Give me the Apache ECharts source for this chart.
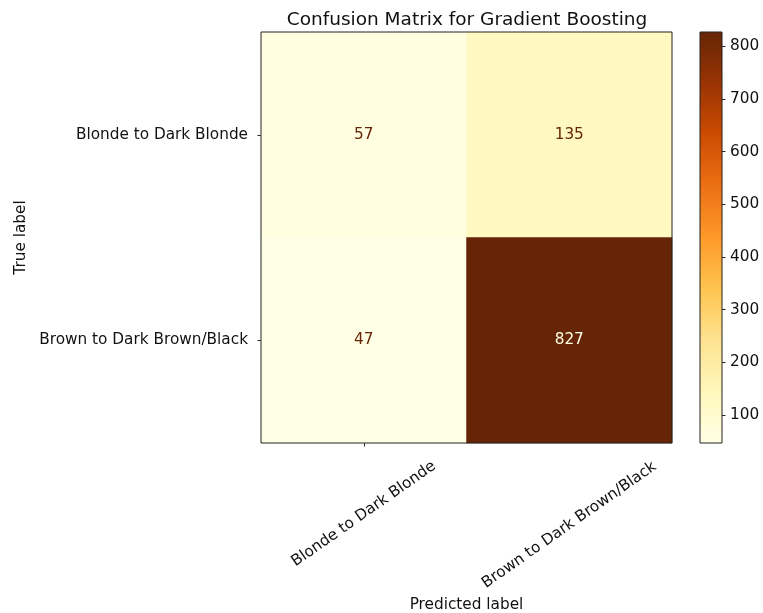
<!DOCTYPE html>
<html>
<head>
<meta charset="utf-8">
<script src="https://cdn.jsdelivr.net/npm/echarts@6/dist/echarts.min.js"></script>
<style>
  html, body { margin: 0; padding: 0; background: #fff; }
  #chart { width: 763px; height: 613px; }
</style>
</head>
<body>
<div id="chart"></div>
<script>
// Class names shared by the true (rows) and predicted (columns) axes
const trueLabels = ['Blonde to Dark Blonde', 'Brown to Dark Brown/Black'];
const predictedLabels = ['Blonde to Dark Blonde', 'Brown to Dark Brown/Black'];
// Counts: rows = true class, columns = predicted class
const countsRow0 = [57, 135];
const countsRow1 = [47, 827];
const colorbarTicks = [100, 200, 300, 400, 500, 600, 700, 800];
// YlOrBr sequential palette
const ylOrBr = ['#ffffe5', '#fff7bc', '#fee391', '#fec44f', '#fe9929', '#ec7014', '#cc4c02', '#993404', '#662506'];

const matrix = [countsRow0, countsRow1];
const flat = matrix.flat();
const vmin = Math.min(...flat);
const vmax = Math.max(...flat);
const threshold = (vmin + vmax) / 2;

const FONT = 'DejaVu Sans';
const FS = 15.3;

const cells = [];
matrix.forEach((row, i) => {
  row.forEach((v, j) => {
    cells.push({
      value: [j, i, v],
      label: { color: v > threshold ? ylOrBr[0] : ylOrBr[ylOrBr.length - 1] }
    });
  });
});

const gradient = {
  type: 'linear', x: 0, y: 1, x2: 0, y2: 0,
  colorStops: ylOrBr.map((c, i) => ({ offset: i / (ylOrBr.length - 1), color: c }))
};

const chart = echarts.init(document.getElementById('chart'), null, { renderer: 'canvas' });

const xLabelBase = {
  rotate: 35,
  align: 'center',
  verticalAlign: 'middle',
  color: '#111',
  fontFamily: FONT,
  fontSize: FS
};

chart.setOption({
  animation: false,
  backgroundColor: '#fff',
  textStyle: { fontFamily: FONT },
  title: {
    text: 'Confusion Matrix for Gradient Boosting',
    left: 462,
    top: 6,
    textAlign: 'center',
    textStyle: { fontFamily: FONT, fontSize: 18.5, fontWeight: 'normal', color: '#111' }
  },
  grid: [
    { left: 261, top: 32, width: 411, height: 411, show: true, z: 10, outerBoundsMode: 'none',
      containLabel: false, borderColor: '#222', borderWidth: 1, backgroundColor: 'transparent' },
    { left: 700, top: 32, width: 22, height: 411, outerBoundsMode: 'none', containLabel: false }
  ],
  xAxis: [
    {
      type: 'category', gridIndex: 0, data: predictedLabels, position: 'bottom',
      axisLine: { show: false },
      axisTick: { show: true, alignWithLabel: true, length: 3.5, lineStyle: { color: '#222' } },
      axisLabel: Object.assign({}, xLabelBase, { margin: 71, interval: (i) => i === 0 }),
      splitLine: { show: false },
      name: 'Predicted label', nameLocation: 'middle', nameGap: 155,
      nameTextStyle: { fontFamily: FONT, fontSize: FS, color: '#111' }
    },
    {
      type: 'category', gridIndex: 0, data: predictedLabels, position: 'bottom',
      axisLine: { show: false },
      axisTick: { show: false },
      axisLabel: Object.assign({}, xLabelBase, { margin: 82, interval: (i) => i === 1 }),
      splitLine: { show: false }
    },
    {
      type: 'category', gridIndex: 1, data: [''], show: false
    }
  ],
  yAxis: [
    {
      type: 'category', gridIndex: 0, data: trueLabels, inverse: true,
      axisLine: { show: false },
      axisTick: { show: true, alignWithLabel: true, length: 3.5, lineStyle: { color: '#222' } },
      axisLabel: { color: '#111', fontFamily: FONT, fontSize: FS, margin: 13 },
      splitLine: { show: false },
      name: 'True label', nameLocation: 'middle', nameGap: 220, nameRotate: 90,
      nameTextStyle: { fontFamily: FONT, fontSize: FS, color: '#111' }
    },
    {
      type: 'value', gridIndex: 1, min: vmin, max: vmax, position: 'right',
      axisLine: { show: false },
      splitLine: { show: false },
      axisTick: { show: true, length: 3.5, customValues: colorbarTicks, lineStyle: { color: '#222' } },
      axisLabel: { show: true, customValues: colorbarTicks, margin: 8, color: '#111', fontFamily: FONT, fontSize: FS }
    }
  ],
  visualMap: {
    show: false, type: 'continuous', seriesIndex: 0,
    min: vmin, max: vmax, dimension: 2,
    inRange: { color: ylOrBr }
  },
  series: [
    {
      type: 'heatmap', xAxisIndex: 0, yAxisIndex: 0,
      data: cells,
      label: { show: true, fontFamily: FONT, fontSize: FS, formatter: (p) => p.value[2] },
      itemStyle: { borderWidth: 0 },
      emphasis: { disabled: true }
    },
    {
      type: 'custom', xAxisIndex: 2, yAxisIndex: 1,
      data: [[0, vmin, vmax]],
      silent: true,
      renderItem: function (params, api) {
        const top = api.coord([api.value(0), api.value(2)]);
        const bottom = api.coord([api.value(0), api.value(1)]);
        const w = api.size([1, 0])[0];
        return {
          type: 'rect',
          shape: { x: top[0] - w / 2, y: top[1], width: w, height: bottom[1] - top[1] },
          style: { fill: gradient, stroke: '#222', lineWidth: 1 }
        };
      }
    }
  ]
});
</script>
</body>
</html>
